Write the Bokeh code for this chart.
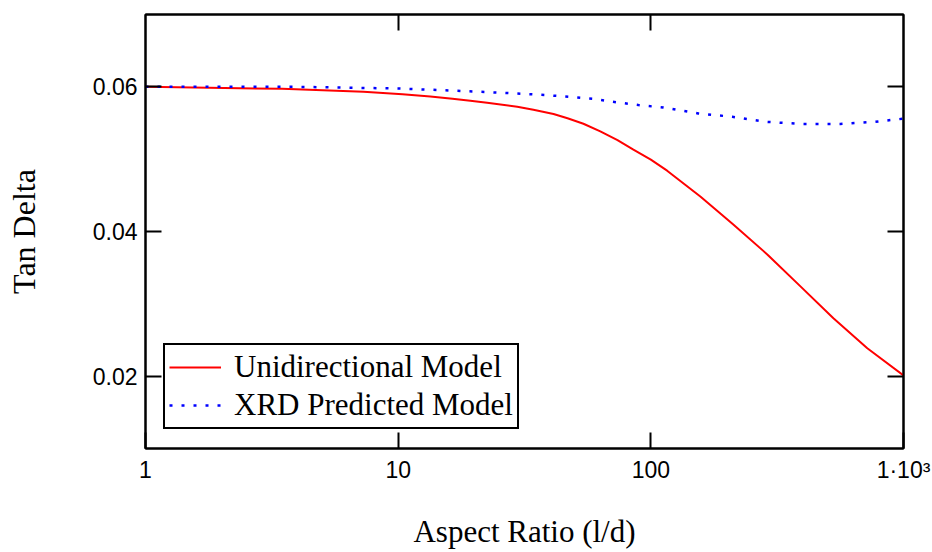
from bokeh.plotting import figure
from bokeh.models import FixedTicker, LogAxis, LinearAxis, Legend, LegendItem
from bokeh.embed import file_html
from bokeh.resources import INLINE

# ---- data ----
aspect_uni = [1, 3.47, 7.29, 10.4, 13.4, 16.4, 19.3, 22.5, 29.6, 34.3, 41.2, 46.8, 54.1,
              63.1, 73.8, 85.3, 100, 116, 157, 212, 289, 391, 528, 719, 1000]
tan_uni = [0.06000, 0.05972, 0.05931, 0.05899, 0.05866, 0.05834, 0.05807, 0.05779, 0.05724,
           0.05683, 0.05625, 0.05565, 0.05490, 0.05383, 0.05262, 0.05131, 0.04993, 0.04841,
           0.04483, 0.04097, 0.03683, 0.03241, 0.02800, 0.02386, 0.02010]

aspect_xrd = [1, 4, 10, 17.2, 27, 38.3, 47.9, 59.3, 66.1, 89.3, 112, 154, 210, 284, 398,
              562, 774, 933, 1000]
tan_xrd = [0.06000, 0.06000, 0.05977, 0.05945, 0.05915, 0.05886, 0.05862, 0.05834, 0.05807,
           0.05748, 0.05714, 0.05632, 0.05586, 0.05517, 0.05486, 0.05486, 0.05517, 0.05549,
           0.05559]

x_ticks = [1, 10, 100, 1000]
x_tick_labels = ["1", "10", "100", "1\u00b710\u00b3"]
y_ticks = [0.02, 0.04, 0.06]
y_tick_labels = ["0.02", "0.04", "0.06"]

series_names = ["Unidirectional Model", "XRD Predicted Model"]
x_title = "Aspect Ratio (l/d)"
y_title = "Tan Delta"

SANS = "Liberation Sans"
SERIF = "Liberation Serif"

p = figure(width=932, height=552, x_axis_type="log", x_range=(1, 1000), y_range=(0.01, 0.07),
           output_backend="svg", toolbar_location=None,
           min_border_left=145, min_border_right=29, min_border_top=14, min_border_bottom=104)
p.grid.visible = False
p.outline_line_color = "black"
p.outline_line_width = 2
p.background_fill_color = "white"
p.border_fill_color = "white"

r1 = p.line(aspect_uni, tan_uni, line_color="#FF0000", line_width=2)
r2 = p.line(aspect_xrd, tan_xrd, line_color="#0000FF", line_width=2.5, line_dash="3 9")


def style_axis(ax, show_labels):
    ax.axis_line_color = "black"
    ax.axis_line_width = 2
    ax.major_tick_line_color = "black"
    ax.major_tick_line_width = 2
    ax.major_tick_in = 16
    ax.major_tick_out = 0
    ax.minor_tick_line_color = None
    if show_labels:
        ax.major_label_text_font = SANS
        ax.major_label_text_font_size = "23px"
        ax.major_label_text_color = "black"
        ax.major_label_standoff = 8
    else:
        ax.major_label_text_font_size = "2px"
        ax.major_label_text_alpha = 0
        ax.major_label_standoff = 0


xa = p.xaxis[0]
xa.ticker = FixedTicker(ticks=x_ticks)
xa.major_label_overrides = dict(zip(x_ticks, x_tick_labels))
style_axis(xa, True)
xa.axis_label = x_title
xa.axis_label_text_font = SERIF
xa.axis_label_text_font_size = "31px"
xa.axis_label_text_font_style = "normal"
xa.axis_label_text_color = "black"
xa.axis_label_standoff = 28

ya = p.yaxis[0]
ya.ticker = FixedTicker(ticks=y_ticks)
ya.major_label_overrides = dict(zip(y_ticks, y_tick_labels))
style_axis(ya, True)
ya.axis_label = y_title
ya.axis_label_text_font = SERIF
ya.axis_label_text_font_size = "32px"
ya.axis_label_text_font_style = "normal"
ya.axis_label_text_color = "black"
ya.axis_label_standoff = 48

top = LogAxis(ticker=FixedTicker(ticks=x_ticks[1:3]))
style_axis(top, False)
p.add_layout(top, "above")

right = LinearAxis(ticker=FixedTicker(ticks=y_ticks))
style_axis(right, False)
p.add_layout(right, "right")

legend = Legend(items=[LegendItem(label=series_names[0], renderers=[r1]),
                       LegendItem(label=series_names[1], renderers=[r2])],
                location=(18, 19))
legend.label_text_font = SERIF
legend.label_text_font_size = "31px"
legend.label_text_color = "black"
legend.border_line_color = "black"
legend.border_line_alpha = 1
legend.border_line_width = 2
legend.background_fill_color = "white"
legend.background_fill_alpha = 1
legend.glyph_width = 52
legend.glyph_height = 34
legend.label_height = 34
legend.label_standoff = 13
legend.padding = 4
legend.spacing = 2
legend.margin = 0
p.add_layout(legend)

open("out.html", "w").write(file_html(p, INLINE))
